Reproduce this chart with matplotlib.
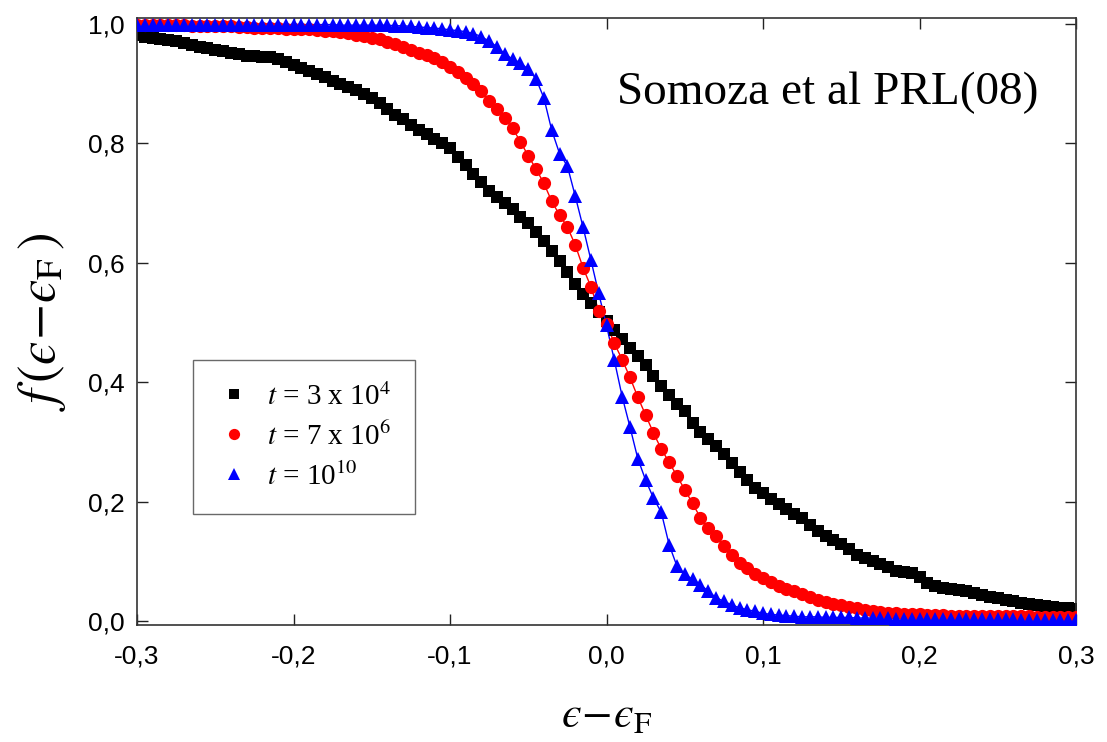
import numpy as np
import matplotlib
matplotlib.use("Agg")
import matplotlib.pyplot as plt
from matplotlib.ticker import FuncFormatter

plt.rcParams['mathtext.fontset'] = 'stix'

# energy grid (epsilon - epsilon_F), step 0.005 from -0.3 to 0.3
x_start, x_stop, n_pts = -0.3, 0.3, 121
energy = np.linspace(x_start, x_stop, n_pts)

f_t3e4 = [
    0.981, 0.979, 0.977, 0.975, 0.973, 0.971, 0.968, 0.965, 0.962, 0.960,
    0.957, 0.954, 0.951, 0.949, 0.947, 0.946, 0.945, 0.944, 0.942, 0.937,
    0.931, 0.926, 0.921, 0.917, 0.911, 0.905, 0.900, 0.895, 0.889, 0.883,
    0.876, 0.867, 0.857, 0.848, 0.840, 0.831, 0.823, 0.815, 0.808, 0.800,
    0.792, 0.778, 0.763, 0.748, 0.735, 0.721, 0.711, 0.700, 0.690, 0.677,
    0.667, 0.652, 0.636, 0.620, 0.603, 0.585, 0.565, 0.548, 0.533, 0.518,
    0.503, 0.488, 0.473, 0.458, 0.444, 0.428, 0.410, 0.393, 0.378, 0.364,
    0.351, 0.332, 0.316, 0.305, 0.293, 0.280, 0.264, 0.249, 0.236, 0.223,
    0.214, 0.205, 0.196, 0.188, 0.180, 0.172, 0.160, 0.150, 0.143, 0.136,
    0.129, 0.120, 0.111, 0.105, 0.100, 0.096, 0.090, 0.084, 0.082, 0.080,
    0.074, 0.063, 0.058, 0.056, 0.054, 0.052, 0.050, 0.047, 0.044, 0.041,
    0.039, 0.036, 0.033, 0.030, 0.028, 0.026, 0.025, 0.023, 0.022, 0.021,
    0.020,
]

f_t7e6 = [
    0.999, 0.999, 0.998, 0.998, 0.998, 0.998, 0.998, 0.997, 0.997, 0.997,
    0.997, 0.996, 0.996, 0.995, 0.995, 0.994, 0.994, 0.993, 0.993, 0.992,
    0.992, 0.991, 0.991, 0.990, 0.989, 0.988, 0.987, 0.985, 0.982, 0.980,
    0.977, 0.974, 0.970, 0.966, 0.961, 0.956, 0.952, 0.948, 0.943, 0.937,
    0.928, 0.920, 0.910, 0.900, 0.887, 0.871, 0.857, 0.842, 0.825, 0.803,
    0.779, 0.757, 0.733, 0.703, 0.680, 0.660, 0.630, 0.592, 0.560, 0.520,
    0.498, 0.465, 0.438, 0.408, 0.375, 0.345, 0.315, 0.288, 0.266, 0.243,
    0.220, 0.197, 0.173, 0.155, 0.142, 0.125, 0.110, 0.097, 0.088, 0.079,
    0.072, 0.065, 0.058, 0.054, 0.050, 0.046, 0.040, 0.036, 0.032, 0.029,
    0.027, 0.024, 0.021, 0.018, 0.016, 0.015, 0.014, 0.013, 0.012, 0.011,
    0.011, 0.010, 0.010, 0.010, 0.009, 0.009, 0.009, 0.009, 0.009, 0.008,
    0.008, 0.008, 0.008, 0.008, 0.008, 0.007, 0.007, 0.007, 0.007, 0.007,
    0.007,
]

f_t1e10 = [
    0.999, 0.999, 0.999, 0.999, 0.999, 0.999, 0.999, 0.999, 0.999, 0.999,
    0.999, 0.999, 0.999, 0.999, 0.999, 0.999, 0.999, 0.999, 0.999, 0.999,
    0.999, 0.999, 0.999, 0.999, 0.999, 0.999, 0.998, 0.998, 0.998, 0.998,
    0.998, 0.998, 0.998, 0.997, 0.997, 0.996, 0.995, 0.994, 0.993, 0.992,
    0.990, 0.989, 0.987, 0.984, 0.979, 0.971, 0.962, 0.950, 0.941, 0.935,
    0.924, 0.908, 0.876, 0.822, 0.783, 0.762, 0.712, 0.660, 0.605, 0.549,
    0.495, 0.437, 0.376, 0.325, 0.272, 0.236, 0.206, 0.182, 0.128, 0.092,
    0.078, 0.070, 0.061, 0.050, 0.039, 0.033, 0.027, 0.022, 0.019, 0.016,
    0.013, 0.011, 0.010, 0.009, 0.008, 0.007, 0.007, 0.007, 0.006, 0.006,
    0.006, 0.006, 0.005, 0.005, 0.005, 0.005, 0.005, 0.004, 0.004, 0.004,
    0.004, 0.004, 0.004, 0.004, 0.003, 0.003, 0.003, 0.003, 0.003, 0.003,
    0.003, 0.003, 0.003, 0.002, 0.002, 0.002, 0.002, 0.002, 0.002, 0.002,
    0.002,
]

labels = [r'$t$ = 3 x 10$^{4}$', r'$t$ = 7 x 10$^{6}$', r'$t$ = 10$^{10}$']
x_ticks = [-0.3, -0.2, -0.1, 0.0, 0.1, 0.2, 0.3]
y_ticks = [0.0, 0.2, 0.4, 0.6, 0.8, 1.0]
annotation = "Somoza et al PRL(08)"

fig = plt.figure(figsize=(11.07, 7.42), dpi=100)
ax = fig.add_axes([137/1107, 1-625/742, (1076-137)/1107, (625-18)/742])

# connecting lines (red and blue)
ax.plot(energy, f_t7e6, '-', color='#ff0000', lw=1.0, zorder=2)
ax.plot(energy, f_t1e10, '-', color='#0000ff', lw=1.0, zorder=3)

h1, = ax.plot(energy, f_t3e4, 's', color='black', ms=9, mew=0, zorder=2, label=labels[0])
h2, = ax.plot(energy, f_t7e6, 'o', color='#ff0000', ms=9.5, mew=0, zorder=3, label=labels[1])
h3, = ax.plot(energy, f_t1e10, '^', color='#0000ff', ms=10, mew=0, zorder=4, label=labels[2])

ax.set_xlim(-0.3, 0.3)
ax.set_ylim(-0.0067, 1.010)
ax.set_xticks(x_ticks)
ax.set_yticks(y_ticks)
fmt = FuncFormatter(lambda v, p: ("%.1f" % v).replace('.', ',').replace('-0,0', '0,0'))
ax.xaxis.set_major_formatter(fmt)
ax.yaxis.set_major_formatter(fmt)
ax.tick_params(direction='in', length=8, width=1.0, top=True, right=True,
               labelsize=19, colors='#222222')
ax.tick_params(axis='x', pad=14)
ax.tick_params(axis='y', pad=9)
for lab in ax.get_xticklabels() + ax.get_yticklabels():
    lab.set_fontfamily('Liberation Sans')
    lab.set_color('black')
for s in ax.spines.values():
    s.set_linewidth(1.2)
    s.set_color('#333333')

eps = '\u03f5'
ax.set_xlabel(r'$%s\!-\!%s_{\rm F}$' % (eps, eps), fontsize=32, labelpad=18)
ax.set_ylabel(r'$f\,(%s\!-\!%s_{\rm F}\,)$' % (eps, eps), fontsize=38, labelpad=14)

leg = ax.legend(handles=[h1, h2, h3], loc='lower left',
                bbox_to_anchor=((193-137)/939, (625-514)/607),
                borderaxespad=0, numpoints=1, markerscale=0.85,
                prop={'family': 'Liberation Serif', 'size': 21},
                fancybox=False, frameon=True, edgecolor='#444444',
                handletextpad=0.55, borderpad=0.8, labelspacing=0.4,
                handlelength=1.2)
leg.get_frame().set_linewidth(1.0)

ax.text((617-137)/939, (625-104)/607, annotation, transform=ax.transAxes,
        fontsize=34, family='Liberation Serif', va='baseline', ha='left')

fig.savefig('out.png', dpi=100)
